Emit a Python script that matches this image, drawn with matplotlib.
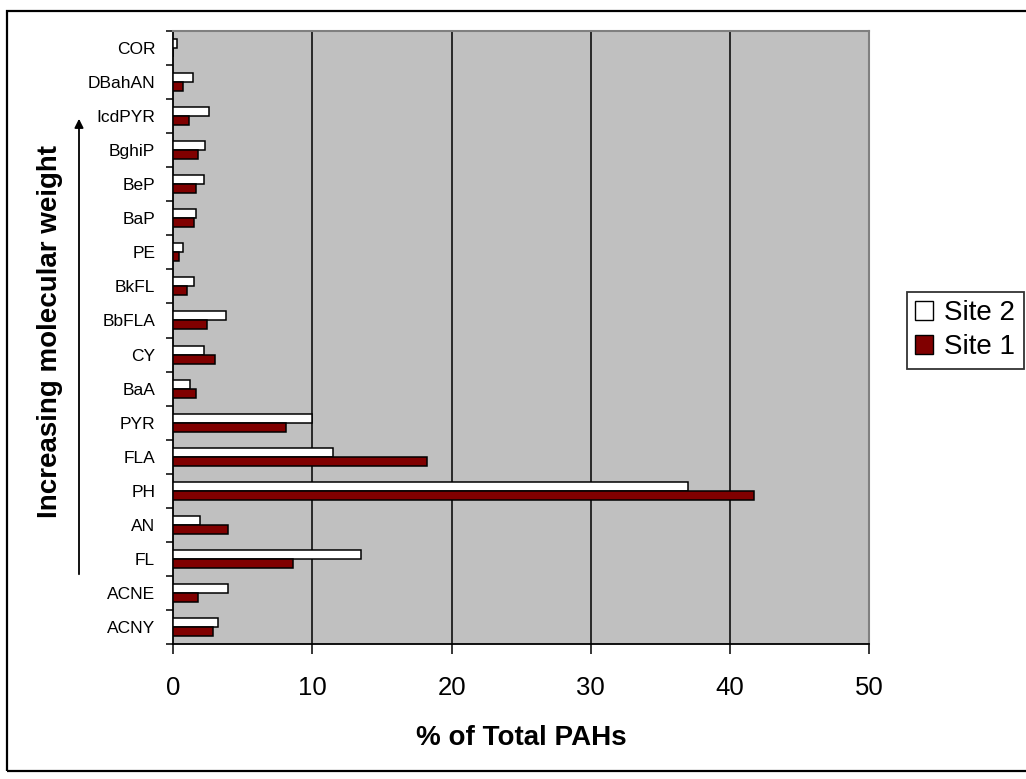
import numpy as np
import matplotlib
matplotlib.use("Agg")
import matplotlib.pyplot as plt
from matplotlib.patches import Rectangle

plt.rcParams["font.family"] = ["Liberation Sans", "DejaVu Sans"]

# PAH compounds, lightest at the bottom
compounds = ["ACNY", "ACNE", "FL", "AN", "PH", "FLA", "PYR", "BaA", "CY",
             "BbFLA", "BkFL", "PE", "BaP", "BeP", "BghiP", "IcdPYR", "DBahAN", "COR"]
site2 = [3.2, 3.9, 13.5, 1.9, 37.0, 11.5, 10.0, 1.2, 2.2,
         3.8, 1.5, 0.7, 1.6, 2.2, 2.3, 2.6, 1.4, 0.3]
site1 = [2.85, 1.75, 8.6, 3.9, 41.7, 18.2, 8.1, 1.65, 3.0,
         2.45, 0.95, 0.4, 1.5, 1.65, 1.8, 1.1, 0.7, 0.0]
xticks = [0, 10, 20, 30, 40, 50]

W, H = 1026, 779
fig = plt.figure(figsize=(W / 100, H / 100), dpi=100)
ax = fig.add_axes([173.3 / W, 1 - 644 / H, (869 - 173.3) / W, (644 - 31) / H])
ax.set_facecolor("#C0C0C0")

y = np.arange(len(compounds))
h = 0.265
ax.barh(y + h / 2, site2, h, color="white", edgecolor="black", lw=1.1,
        label="Site 2", zorder=3)
ax.barh(y - h / 2, site1, h, color="#800000", edgecolor="black", lw=1.1,
        label="Site 1", zorder=3)

ax.set_xlim(0, 50)
ax.set_ylim(-0.5, len(compounds) - 0.5)
ax.set_xticks(xticks)
ax.tick_params(axis="x", length=7, width=1.1, labelsize=18.5, pad=16)
for v in xticks[1:-1]:
    ax.axvline(v, color="black", lw=1.1, zorder=1)

# category boundaries get the tick marks, names sit between them
ax.set_yticks(np.arange(len(compounds) + 1) - 0.5)
ax.set_yticklabels([])
ax.set_yticks(y, minor=True)
ax.set_yticklabels(compounds, minor=True)
ax.tick_params(axis="y", which="major", length=5, width=1.1)
ax.tick_params(axis="y", which="minor", length=0, labelsize=12.5, pad=13)

for s in ("left", "bottom"):
    ax.spines[s].set_color("black")
    ax.spines[s].set_linewidth(1.3)
for s in ("top", "right"):
    ax.spines[s].set_color("#808080")
    ax.spines[s].set_linewidth(1.5)

ax.set_xlabel("% of Total PAHs", fontsize=20, fontweight="bold", labelpad=18)

fig.text(50 / W, 1 - 331.5 / H, "Increasing molecular weight", rotation=90,
         ha="center", va="center", fontsize=20, fontweight="bold")
ax.annotate("", xy=(79 / W, 1 - 116 / H), xytext=(79 / W, 1 - 577 / H),
            xycoords="figure fraction", textcoords="figure fraction",
            arrowprops=dict(arrowstyle="-|>", color="black", lw=1.3,
                            mutation_scale=13))

handles, labels = ax.get_legend_handles_labels()
leg = fig.legend(handles, labels, loc="upper left",
                 bbox_to_anchor=(906.7 / W, 1 - 291.7 / H), fontsize=20,
                 frameon=True, fancybox=False, shadow=False,
                 handlelength=0.65, handleheight=0.65, handletextpad=0.4,
                 borderpad=0.3, labelspacing=0.3, borderaxespad=0)
leg.get_frame().set_edgecolor("black")
leg.get_frame().set_linewidth(1.3)
for p in leg.get_patches():
    p.set_linewidth(1.0)

# outer chart border
fig.add_artist(Rectangle((7 / W, 1 - 771 / H), 1.1, (771 - 11) / H,
                         transform=fig.transFigure, fill=False,
                         edgecolor="black", lw=1.6))

fig.savefig("out.png", dpi=100)
